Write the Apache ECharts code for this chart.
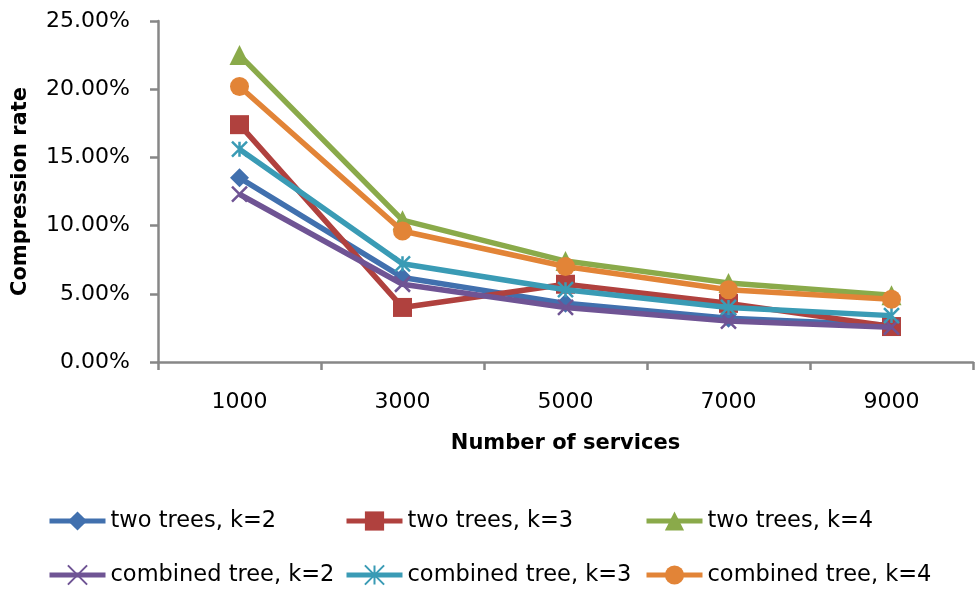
<!DOCTYPE html>
<html>
<head>
<meta charset="utf-8">
<script src="https://cdn.jsdelivr.net/npm/echarts@6/dist/echarts.min.js"></script>
<style>
  html, body { margin: 0; padding: 0; background: #fff; }
  #chart { width: 977px; height: 600px; }
</style>
</head>
<body>
<div id="chart"></div>
<script>
// Number of services on the x axis
const categories = ['1000', '3000', '5000', '7000', '9000'];

// Compression rate (%) per configuration
const twoTreesK2 = [13.5, 6.2, 4.3, 3.2, 2.7];
const twoTreesK3 = [17.4, 4.0, 5.7, 4.3, 2.6];
const twoTreesK4 = [22.5, 10.4, 7.4, 5.8, 4.9];
const combinedK2 = [12.3, 5.7, 4.0, 3.0, 2.55];
const combinedK3 = [15.6, 7.2, 5.3, 4.0, 3.4];
const combinedK4 = [20.2, 9.6, 7.0, 5.3, 4.6];

const seriesNames = [
  'two trees, k=2', 'two trees, k=3', 'two trees, k=4',
  'combined tree, k=2', 'combined tree, k=3', 'combined tree, k=4'
];

const FONT = 'DejaVu Sans';
const AXIS_GREY = '#878787';

const crossPath = 'path://M0,0L10,10M10,0L0,10';
const starPath = 'path://M5,0L5,10M0,0L10,10M10,0L0,10';

const styles = [
  { color: '#4170AE', symbol: 'diamond', size: 19 },
  { color: '#B0413E', symbol: 'rect', size: 19 },
  { color: '#8AAA4A', symbol: 'triangle', size: 20 },
  { color: '#6F5494', symbol: crossPath, size: 15, stroke: true },
  { color: '#3A9BB5', symbol: starPath, size: 15, stroke: true },
  { color: '#E28437', symbol: 'circle', size: 19 }
];

const values = [twoTreesK2, twoTreesK3, twoTreesK4, combinedK2, combinedK3, combinedK4];

const series = values.map((vals, i) => {
  const s = styles[i];
  return {
    name: seriesNames[i],
    type: 'line',
    data: vals,
    symbol: s.symbol,
    symbolSize: s.size,
    showAllSymbol: true,
    lineStyle: { color: s.color, width: 5.5 },
    itemStyle: s.stroke
      ? { color: s.color, borderColor: s.color, borderWidth: 2.5 }
      : { color: s.color, borderWidth: 0 },
    emphasis: { disabled: true },
    z: 2 + i
  };
});

// One legend block per entry, laid out in a 3x2 grid
const legendCols = [47, 344, 644];
const legendRows = [509, 563];
const legends = seriesNames.map((name, i) => ({
  data: [name],
  left: legendCols[i % 3],
  top: legendRows[Math.floor(i / 3)],
  itemWidth: 56,
  itemHeight: 24,
  itemGap: 0,
  padding: 0,
  lineStyle: { width: 5 },
  textStyle: { fontFamily: FONT, fontSize: 22.5, lineHeight: 24, color: '#000', padding: [0, 0, 0, 0] },
  selectedMode: false
}));

const chart = echarts.init(document.getElementById('chart'), null, { renderer: 'canvas' });
chart.setOption({
  animation: false,
  backgroundColor: '#fff',
  grid: { left: 158, right: 4, top: 21, bottom: 238, containLabel: false, outerBoundsMode: 'none' },
  legend: legends,
  xAxis: {
    type: 'category',
    data: categories,
    boundaryGap: true,
    name: 'Number of services',
    nameLocation: 'middle',
    nameGap: 71,
    nameTextStyle: { fontFamily: FONT, fontSize: 21, fontWeight: 'bold', color: '#000' },
    axisLine: { lineStyle: { color: AXIS_GREY, width: 2.5 } },
    axisTick: { show: true, length: 8, lineStyle: { color: AXIS_GREY, width: 2.5 } },
    axisLabel: { fontFamily: FONT, fontSize: 22, color: '#000', margin: 29 },
    splitLine: { show: false }
  },
  yAxis: {
    type: 'value',
    min: 0,
    max: 25,
    interval: 5,
    name: 'Compression rate',
    nameLocation: 'middle',
    nameGap: 127,
    nameRotate: 90,
    nameTextStyle: { fontFamily: FONT, fontSize: 21, fontWeight: 'bold', color: '#000' },
    axisLine: { show: true, lineStyle: { color: AXIS_GREY, width: 2.5 } },
    axisTick: { show: true, length: 8, lineStyle: { color: AXIS_GREY, width: 2.5 } },
    axisLabel: {
      fontFamily: FONT, fontSize: 22, color: '#000', margin: 28,
      formatter: v => v.toFixed(2) + '%'
    },
    splitLine: { show: false }
  },
  series: series
});
</script>
</body>
</html>
